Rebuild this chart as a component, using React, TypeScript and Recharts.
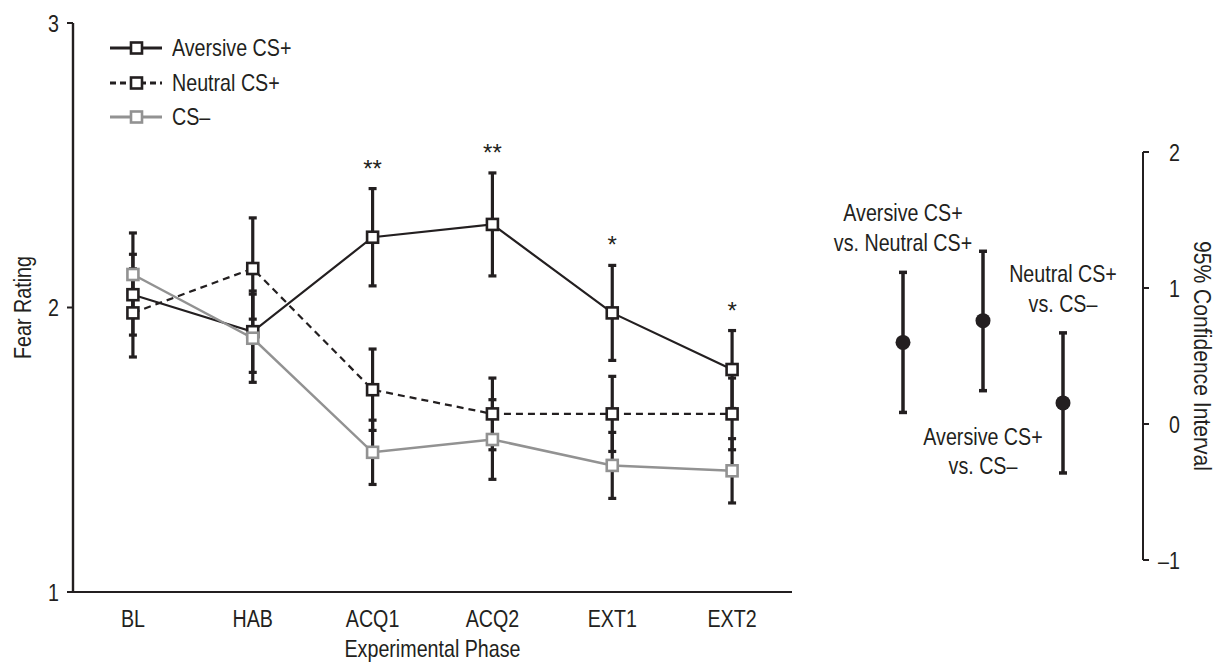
import React from "react";
import {
  LineChart,
  Line,
  XAxis,
  YAxis,
  ErrorBar,
  ReferenceDot,
  Legend,
  ScatterChart,
  Scatter,
} from "recharts";

const INK = "#231f20";
const GREY = "#929292";
const FONT = "'Liberation Sans', Arial, sans-serif";
const SQUEEZE = 0.82; // reference uses a condensed face; squeeze Liberation Sans to match

// left panel: mean fear rating per phase, with error bars
const phases = ["BL", "HAB", "ACQ1", "ACQ2", "EXT1", "EXT2"];
const aversiveMean = [2.045, 1.915, 2.247, 2.292, 1.981, 1.782];
const aversiveErr = [0.142, 0.143, 0.171, 0.181, 0.167, 0.137];
const neutralMean = [1.981, 2.137, 1.711, 1.626, 1.626, 1.626];
const neutralErr = [0.155, 0.178, 0.143, 0.126, 0.132, 0.126];
const csMinusMean = [2.116, 1.892, 1.491, 1.536, 1.445, 1.426];
const csMinusErr = [0.146, 0.155, 0.113, 0.14, 0.116, 0.113];
const stars = ["", "", "**", "**", "*", "*"];

// right panel: difference scores with 95% CI
const comparisons = [
  ["Aversive CS+", "vs. Neutral CS+"],
  ["Aversive CS+", "vs. CS–"],
  ["Neutral CS+", "vs. CS–"],
];
const diffMean = [0.6, 0.76, 0.155];
const ciLow = [0.085, 0.245, -0.36];
const ciHigh = [1.115, 1.27, 0.67];
const labelSide = ["above", "below", "above"];

const SERIES = [
  { key: "aversive", err: "aversiveErr", name: "Aversive CS+", color: INK, dash: undefined, width: 2.2 },
  { key: "neutral", err: "neutralErr", name: "Neutral CS+", color: INK, dash: "7 5", width: 2.2 },
  { key: "csMinus", err: "csMinusErr", name: "CS–", color: GREY, dash: undefined, width: 2.5 },
];

const phaseRows = phases.map((p, i) => ({
  phase: p,
  pos: i + 0.5,
  aversive: aversiveMean[i],
  aversiveErr: aversiveErr[i],
  neutral: neutralMean[i],
  neutralErr: neutralErr[i],
  csMinus: csMinusMean[i],
  csMinusErr: csMinusErr[i],
}));

const ciRows = comparisons.map((c, i) => ({
  x: i + 1,
  diff: diffMean[i],
  ci: [diffMean[i] - ciLow[i], ciHigh[i] - diffMean[i]],
}));

function NText({ x, y, anchor = "middle", dy, rotate, size = 24, sx = SQUEEZE, children }: any) {
  const rot = rotate ? ` rotate(${rotate})` : "";
  return (
    <text
      transform={`translate(${x},${y})${rot} scale(${sx},1)`}
      textAnchor={anchor}
      dy={dy}
      fontSize={size}
      fill={INK}
      fontFamily={FONT}
    >
      {children}
    </text>
  );
}

const squareDot = (color: string) => (props: any) => {
  const { cx, cy, index } = props;
  return (
    <rect
      key={`sq-${index}`}
      x={cx - 5.5}
      y={cy - 5.5}
      width={11}
      height={11}
      fill="#fff"
      stroke={color}
      strokeWidth={2.6}
    />
  );
};

const anchorOf = (props: any) => {
  const vb = props.viewBox || {};
  return {
    x: (vb.x ?? props.x ?? 0) + (vb.width || 0) / 2,
    y: (vb.y ?? props.y ?? 0) + (vb.height || 0) / 2,
  };
};

const starLabel = (text: string) => (props: any) => {
  const { x, y } = anchorOf(props);
  return <NText x={x} y={y - 12} sx={1}>{text}</NText>;
};

const compLabel = (lines: string[], side: string) => (props: any) => {
  const { x, y } = anchorOf(props);
  const base = side === "above" ? [y - 51, y - 21] : [y + 54, y + 83];
  return (
    <g>
      {lines.map((l, i) => (
        <NText key={i} x={x} y={base[i]}>{l}</NText>
      ))}
    </g>
  );
};

function LegendBox() {
  return (
    <div style={{ fontFamily: FONT, fontSize: 24, color: INK }}>
      {SERIES.map((s) => (
        <div key={s.key} style={{ display: "flex", alignItems: "center", height: 34.5 }}>
          <svg width={52} height={14}>
            <line x1={0} y1={7} x2={52} y2={7} stroke={s.color} strokeWidth={3.2} strokeDasharray={s.dash ? "6 4" : undefined} />
            <rect x={21} y={1.5} width={11} height={11} fill="#fff" stroke={s.color} strokeWidth={2.6} />
          </svg>
          <span style={{ marginLeft: 10, lineHeight: 1, display: "inline-block", transform: `scaleX(${SQUEEZE})`, transformOrigin: "left center", whiteSpace: "nowrap" }}>
            {s.name}
          </span>
        </div>
      ))}
    </div>
  );
}

export default function App() {
  return (
    <div style={{ position: "absolute", left: 0, top: 0, width: 1224, height: 670, background: "#fff", fontFamily: FONT }}>
      <div style={{ position: "absolute", left: 0, top: 0 }}>
        <LineChart width={820} height={670} data={phaseRows} margin={{ top: 23, right: 28, bottom: 0, left: 0 }}>
          <XAxis
            xAxisId="b"
            type="number"
            dataKey="pos"
            domain={[0, 6]}
            ticks={[0.5, 1.5, 2.5, 3.5, 4.5, 5.5]}
            axisLine={false}
            tickLine={false}
            tickSize={0}
            tickMargin={12}
            height={72}
            allowDataOverflow
            tick={(p: any) => (
              <NText x={p.x} y={p.y} dy="0.71em">{phases[Math.floor(p.payload.value)]}</NText>
            )}
            label={(p: any) => {
              const vb = p.viewBox || {};
              return <NText x={vb.x + vb.width / 2} y={vb.y + 59}>Experimental Phase</NText>;
            }}
          />
          <XAxis
            xAxisId="a"
            type="number"
            dataKey="pos"
            domain={[0, 6]}
            ticks={[0, 1, 2, 3, 4, 5, 6]}
            tick={false}
            tickSize={6}
            height={6}
            allowDataOverflow
            axisLine={{ stroke: INK, strokeWidth: 2 }}
            tickLine={{ stroke: INK, strokeWidth: 2 }}
          />
          <YAxis
            domain={[1, 3]}
            ticks={[1, 2, 3]}
            width={73}
            tickSize={6}
            tickMargin={8}
            allowDataOverflow
            axisLine={{ stroke: INK, strokeWidth: 2.4 }}
            tickLine={{ stroke: INK, strokeWidth: 2 }}
            tick={(p: any) => (
              <NText x={p.x} y={p.y} anchor="end" dy="0.355em">{p.payload.value}</NText>
            )}
            label={(p: any) => {
              const vb = p.viewBox || {};
              return <NText x={vb.x + 22} y={vb.y + vb.height / 2} rotate={-90} dy="0.355em">Fear Rating</NText>;
            }}
          />
          <Legend
            layout="vertical"
            align="center"
            verticalAlign="middle"
            content={() => <LegendBox />}
            wrapperStyle={{ top: 31, left: 110, width: 220, bottom: "auto", right: "auto" }}
          />
          {SERIES.map((s) => (
            <Line
              key={s.key}
              xAxisId="a"
              type="linear"
              dataKey={s.key}
              name={s.name}
              stroke={s.color}
              strokeWidth={s.width}
              strokeDasharray={s.dash}
              dot={squareDot(s.color)}
              activeDot={false}
              isAnimationActive={false}
            >
              <ErrorBar dataKey={s.err} direction="y" width={4} strokeWidth={3.2} stroke={INK} />
            </Line>
          ))}
          {phaseRows.map((r, i) =>
            stars[i] ? (
              <ReferenceDot
                key={`star-${i}`}
                xAxisId="a"
                x={r.pos}
                y={r.aversive + r.aversiveErr}
                r={0}
                fill="none"
                stroke="none"
                label={starLabel(stars[i])}
              />
            ) : null
          )}
        </LineChart>
      </div>
      <div style={{ position: "absolute", left: 800, top: 0 }}>
        <ScatterChart width={424} height={670} margin={{ top: 152, right: 0, bottom: 110, left: 23 }}>
          <XAxis type="number" dataKey="x" domain={[0, 4]} hide allowDataOverflow />
          <YAxis
            type="number"
            dataKey="diff"
            orientation="right"
            domain={[-1, 2]}
            ticks={[-1, 0, 1, 2]}
            width={81}
            tickSize={6}
            tickMargin={31}
            allowDataOverflow
            axisLine={{ stroke: INK, strokeWidth: 2 }}
            tickLine={{ stroke: INK, strokeWidth: 2 }}
            tick={(p: any) => {
              const v = p.payload.value;
              return (
                <NText x={p.x} y={p.y} anchor="end" dy="0.355em">{v < 0 ? `–${-v}` : `${v}`}</NText>
              );
            }}
            label={(p: any) => {
              const vb = p.viewBox || {};
              return (
                <NText x={vb.x + 60} y={vb.y + vb.height / 2} rotate={90} dy="0.355em" sx={0.88}>
                  95% Confidence Interval
                </NText>
              );
            }}
          />
          <Scatter
            data={ciRows}
            fill={INK}
            isAnimationActive={false}
            shape={(p: any) => <circle cx={p.cx} cy={p.cy} r={7.5} fill={INK} />}
          >
            <ErrorBar dataKey="ci" direction="y" width={4} strokeWidth={3.5} stroke={INK} />
          </Scatter>
          {ciRows.map((r, i) => (
            <ReferenceDot
              key={`cmp-${i}`}
              x={r.x}
              y={labelSide[i] === "above" ? ciHigh[i] : ciLow[i]}
              r={0}
              fill="none"
              stroke="none"
              label={compLabel(comparisons[i], labelSide[i])}
            />
          ))}
        </ScatterChart>
      </div>
    </div>
  );
}
